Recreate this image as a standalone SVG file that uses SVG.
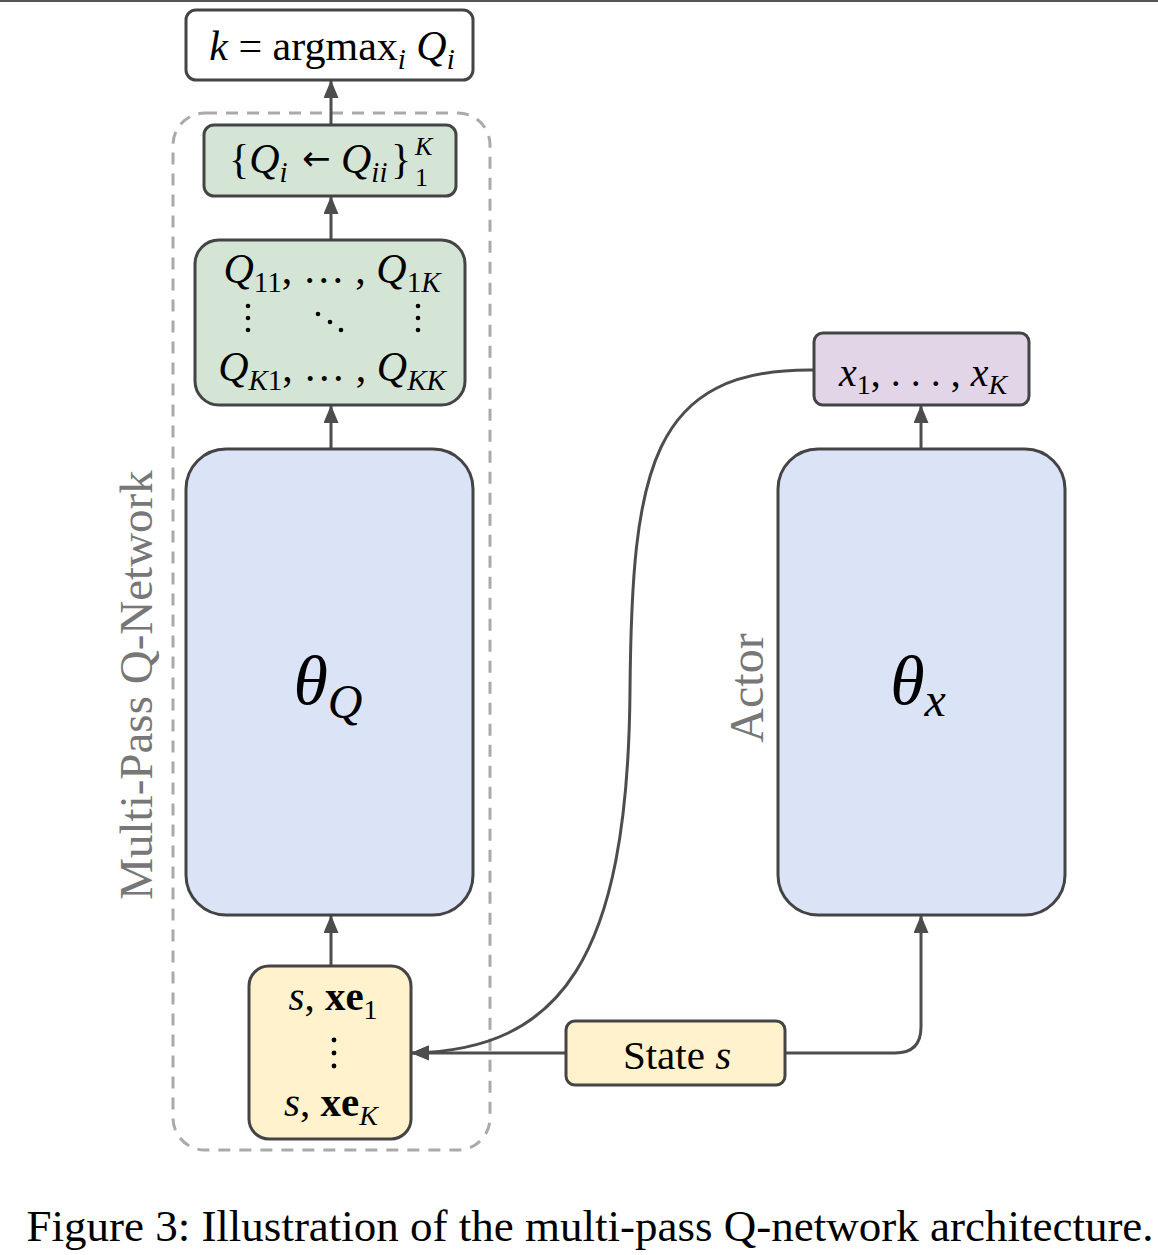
<svg xmlns="http://www.w3.org/2000/svg" width="1158" height="1255" viewBox="0 0 1158 1255">
<defs>
<marker id="ah" viewBox="0 0 18 15" refX="17" refY="7.5" markerWidth="18" markerHeight="15" orient="auto" markerUnits="userSpaceOnUse">
<path d="M0,0 L18,7.5 L0,15 z" fill="#4d4d4d"/>
</marker>
<style>
.box{stroke:#444;stroke-width:3}
.t{font-family:"Liberation Serif","Times New Roman",serif;fill:#000}
.i{font-style:italic}
.lbl{font-family:"Liberation Serif","Times New Roman",serif;fill:#777}
.c{fill:none;stroke:#4d4d4d;stroke-width:3}
</style>
</defs>
<rect width="1158" height="1255" fill="#fff"/>
<line x1="0" y1="1" x2="1158" y2="1" stroke="#555" stroke-width="2"/>

<g id="container">
<rect x="173" y="113" width="317" height="1037" rx="32" fill="none" stroke="#aaa" stroke-width="3" stroke-dasharray="12 9"/>
<text class="lbl" font-size="47" transform="translate(152,685) rotate(-90)" text-anchor="middle">Multi-Pass Q-Network</text>
</g>

<g id="connectors">
<path class="c" d="M331,966 L331,916" marker-end="url(#ah)"/>
<path class="c" d="M331,449 L331,406" marker-end="url(#ah)"/>
<path class="c" d="M331,240 L331,197" marker-end="url(#ah)"/>
<path class="c" d="M331,125 L331,81" marker-end="url(#ah)"/>
<path class="c" d="M921,449 L921,406" marker-end="url(#ah)"/>
<path class="c" d="M785,1053 L895,1053 Q921,1053 921,1027 L921,916" marker-end="url(#ah)"/>
<path class="c" d="M566,1053 L412,1053" marker-end="url(#ah)"/>
<path class="c" d="M814,370 C650,368 632,470 630,690 C628,960 560,1050 412,1053" marker-end="url(#ah)"/>
</g>

<g id="node-argmax">
<rect class="box" x="186" y="10" width="287" height="70" rx="10" fill="#fff"/>
<text class="t" x="332" y="60" font-size="42" text-anchor="middle"><tspan class="i">k</tspan> = argmax<tspan class="i" font-size="29" dy="9">i</tspan><tspan dy="-9"> </tspan><tspan class="i">Q</tspan><tspan class="i" font-size="29" dy="9">i</tspan></text>
</g>

<g id="node-select">
<rect class="box" x="204" y="125" width="252" height="71" rx="10" fill="#d5e5d5"/>
<text class="t" x="229" y="173" font-size="42">{<tspan class="i">Q</tspan><tspan class="i" font-size="29" dy="9">i</tspan></text>
<text x="302" y="170" font-size="34" font-family="DejaVu Sans, sans-serif" fill="#000">←</text>
<text class="t" x="341" y="173" font-size="42"><tspan class="i">Q</tspan><tspan class="i" font-size="29" dy="9">ii</tspan></text>
<text class="t" x="391" y="173" font-size="42">}</text>
<text class="t i" x="415" y="155" font-size="26">K</text>
<text class="t" x="415" y="186" font-size="26">1</text>
</g>

<g id="node-matrix">
<rect class="box" x="195" y="240" width="270" height="165" rx="24" fill="#d5e5d5"/>
<text class="t" x="332" y="283" font-size="42" text-anchor="middle"><tspan class="i">Q</tspan><tspan font-size="29" dy="9">11</tspan><tspan dy="-9">, … , </tspan><tspan class="i">Q</tspan><tspan font-size="29" dy="9">1</tspan><tspan class="i" font-size="29">K</tspan></text>
<circle cx="248" cy="306" r="2.3" fill="#000"/><circle cx="248" cy="318" r="2.3" fill="#000"/><circle cx="248" cy="330" r="2.3" fill="#000"/>
<circle cx="418" cy="306" r="2.3" fill="#000"/><circle cx="418" cy="318" r="2.3" fill="#000"/><circle cx="418" cy="330" r="2.3" fill="#000"/>
<circle cx="318" cy="314" r="2.3" fill="#000"/><circle cx="330" cy="322" r="2.3" fill="#000"/><circle cx="341" cy="330" r="2.3" fill="#000"/>
<text class="t" x="332" y="381" font-size="42" text-anchor="middle"><tspan class="i">Q</tspan><tspan class="i" font-size="29" dy="9">K</tspan><tspan font-size="29">1</tspan><tspan dy="-9">, … , </tspan><tspan class="i">Q</tspan><tspan class="i" font-size="29" dy="9">KK</tspan></text>
</g>

<g id="node-thetaQ">
<rect class="box" x="186" y="449" width="287" height="466" rx="40" fill="#dbe4f6"/>
<text class="t i" x="328" y="704" font-size="70" text-anchor="middle">θ<tspan font-size="48" dy="14">Q</tspan></text>
</g>

<g id="node-input">
<rect class="box" x="249" y="966" width="162" height="173" rx="20" fill="#fff2cd"/>
<text class="t" x="333" y="1010" font-size="41" text-anchor="middle"><tspan class="i">s</tspan>, <tspan font-weight="bold">xe</tspan><tspan font-size="28" dy="9">1</tspan></text>
<circle cx="334" cy="1040" r="2.4" fill="#000"/><circle cx="334" cy="1053" r="2.4" fill="#000"/><circle cx="334" cy="1066" r="2.4" fill="#000"/>
<text class="t" x="331" y="1116" font-size="41" text-anchor="middle"><tspan class="i">s</tspan>, <tspan font-weight="bold">xe</tspan><tspan class="i" font-size="28" dy="9">K</tspan></text>
</g>

<g id="node-state">
<rect class="box" x="566" y="1021" width="219" height="64" rx="9" fill="#fff2cd"/>
<text class="t" x="677" y="1069" font-size="41" text-anchor="middle">State <tspan class="i">s</tspan></text>
</g>

<g id="node-thetax">
<rect class="box" x="778" y="449" width="287" height="466" rx="40" fill="#dbe4f6"/>
<text class="lbl" font-size="48" transform="translate(763,688) rotate(-90)" text-anchor="middle">Actor</text>
<text class="t i" x="918" y="704" font-size="70" text-anchor="middle">θ<tspan font-size="48" dy="12">x</tspan></text>
</g>

<g id="node-actions">
<rect class="box" x="814" y="333" width="215" height="72" rx="9" fill="#e2d5e7"/>
<text class="t" x="923" y="386" font-size="40" text-anchor="middle"><tspan class="i">x</tspan><tspan font-size="28" dy="8">1</tspan><tspan dy="-8">, . . . , </tspan><tspan class="i">x</tspan><tspan class="i" font-size="28" dy="8">K</tspan></text>
</g>

<text class="t" x="590" y="1241" font-size="45" text-anchor="middle">Figure 3: Illustration of the multi-pass Q-network architecture.</text>
</svg>
